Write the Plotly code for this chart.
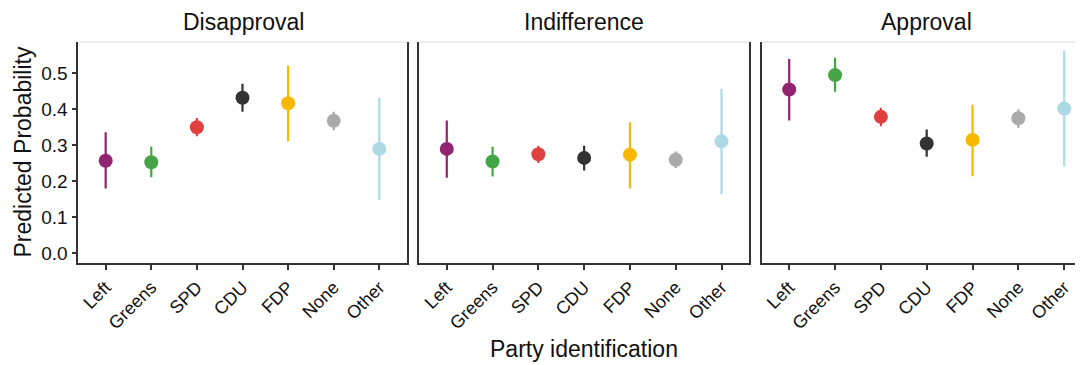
import plotly.graph_objects as go

parties = ["Left", "Greens", "SPD", "CDU", "FDP", "None", "Other"]
colors = ["#922370", "#45A545", "#E04040", "#333333", "#F8B800", "#AAAAAA", "#ADD8E6"]
panels = ["Disapproval", "Indifference", "Approval"]

disapproval_est = [0.256, 0.252, 0.349, 0.431, 0.416, 0.367, 0.289]
disapproval_lo = [0.179, 0.210, 0.324, 0.392, 0.310, 0.341, 0.147]
disapproval_hi = [0.335, 0.295, 0.375, 0.470, 0.520, 0.392, 0.431]

indifference_est = [0.289, 0.254, 0.274, 0.264, 0.273, 0.259, 0.310]
indifference_lo = [0.209, 0.212, 0.250, 0.229, 0.179, 0.236, 0.164]
indifference_hi = [0.368, 0.295, 0.298, 0.298, 0.363, 0.282, 0.456]

approval_est = [0.454, 0.494, 0.378, 0.304, 0.314, 0.374, 0.401]
approval_lo = [0.368, 0.448, 0.352, 0.267, 0.213, 0.347, 0.241]
approval_hi = [0.539, 0.542, 0.403, 0.343, 0.412, 0.399, 0.562]

y_ticks = [0.0, 0.1, 0.2, 0.3, 0.4, 0.5]

data = [
    (disapproval_est, disapproval_lo, disapproval_hi),
    (indifference_est, indifference_lo, indifference_hi),
    (approval_est, approval_lo, approval_hi),
]

# page has an 8px body margin; figure coordinates are page coords minus 8
W, H = 1075, 357
dom_px = [(70.3, 398.7), (411.3, 741.0), (753.7, 1075.0)]
xranges = [[0.4, 7.6], [0.4, 7.6], [0.4, 7.41]]
FONT = "Liberation Sans, Arial, sans-serif"
AX = "#333333"
TXT = "#111111"

fig = go.Figure()
layout = {}
for p, (est, lo, hi) in enumerate(data):
    xa = "x" if p == 0 else f"x{p+1}"
    ya = "y" if p == 0 else f"y{p+1}"
    for i, party in enumerate(parties):
        fig.add_trace(go.Scatter(
            x=[party], y=[est[i]], xaxis=xa, yaxis=ya, mode="markers",
            marker=dict(size=14, color=colors[i], line=dict(width=0)),
            error_y=dict(type="data", symmetric=False,
                         array=[hi[i] - est[i]], arrayminus=[est[i] - lo[i]],
                         color=colors[i], thickness=2.2, width=0),
            showlegend=False, cliponaxis=False,
        ))
    d0, d1 = dom_px[p]
    xkey = "xaxis" if p == 0 else f"xaxis{p+1}"
    ykey = "yaxis" if p == 0 else f"yaxis{p+1}"
    layout[xkey] = dict(
        domain=[d0 / W, d1 / W], anchor=ya, type="category",
        categoryorder="array", categoryarray=parties,
        range=[xranges[p][0] - 1, xranges[p][1] - 1], automargin=False,
        showgrid=False, zeroline=False, showline=True, linecolor=AX, linewidth=1.6,
        ticks="outside", ticklen=5, tickwidth=1.5, tickcolor=AX,
        tickangle=-45, tickfont=dict(family=FONT, size=18, color=TXT),
    )
    layout[ykey] = dict(
        domain=[0, 1], anchor=xa, range=[-0.028, 0.586], automargin=False,
        tickvals=y_ticks, ticktext=[f"{v:.1f}" for v in y_ticks],
        showgrid=False, zeroline=False, showline=True, linecolor=AX, linewidth=1.6,
        mirror=(p < 2),
        ticks="outside" if p == 0 else "", ticklen=5, tickwidth=1.5, tickcolor=AX,
        showticklabels=(p == 0),
        tickfont=dict(family=FONT, size=19, color=TXT),
    )

fig.update_layout(**layout)

shapes = []
annotations = []
for p, (d0, d1) in enumerate(dom_px):
    shapes.append(dict(type="line", xref="paper", yref="paper",
                       x0=d0 / W, x1=d1 / W, y0=1, y1=1,
                       line=dict(color="#D9D9D9", width=1)))
    annotations.append(dict(text=panels[p], xref="paper", yref="paper",
                            x=(d0 + 164.7) / W, y=1, yshift=20,
                            xanchor="center", yanchor="middle", showarrow=False,
                            font=dict(family=FONT, size=23, color=TXT)))
annotations.append(dict(text="Party identification", xref="paper", yref="paper",
                        x=576 / W, y=0, yshift=-86, xanchor="center", yanchor="middle",
                        showarrow=False, font=dict(family=FONT, size=23, color=TXT)))
annotations.append(dict(text="Predicted Probability", xref="paper", yref="paper",
                        x=14 / W, y=0.5, textangle=-90, xanchor="center", yanchor="middle",
                        showarrow=False, font=dict(family=FONT, size=23, color=TXT)))

fig.update_layout(
    width=W, height=H,
    margin=dict(l=0, r=0, t=34, b=101.7, autoexpand=False),
    plot_bgcolor="white", paper_bgcolor="white",
    shapes=shapes, annotations=annotations,
    font=dict(family=FONT),
)

fig.write_html("out.html")
